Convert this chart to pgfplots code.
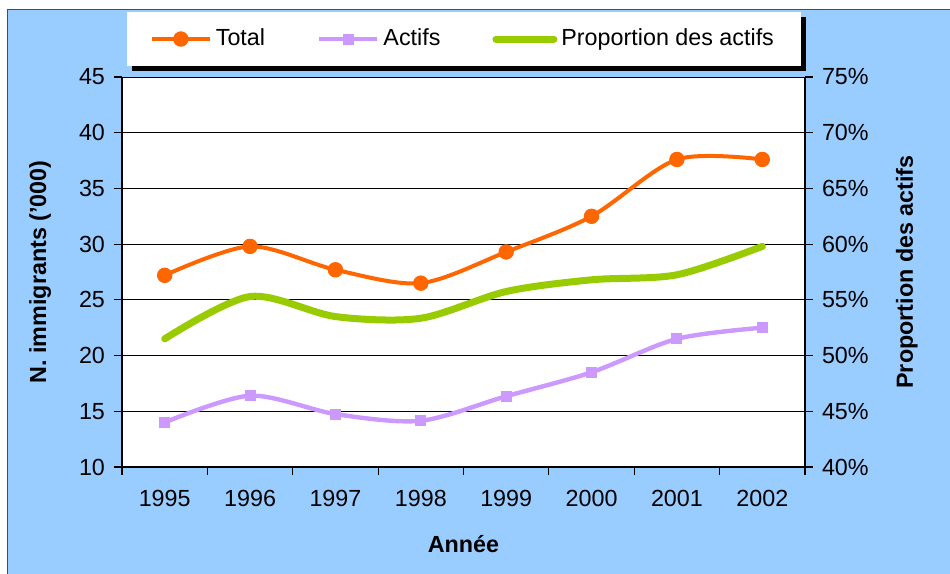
\documentclass[border=0pt]{standalone}
\usepackage{fontspec}
\setmainfont{Liberation Sans}
\usepackage{pgfplots}
\pgfplotsset{compat=1.18}

\definecolor{bgblue}{HTML}{99CCFF}
\definecolor{cTotal}{HTML}{FF6600}
\definecolor{cActifs}{HTML}{CC99FF}
\definecolor{cProp}{HTML}{99CC00}
\newcommand{\fs}{\fontsize{11.7}{14}\selectfont}

\begin{document}
\begin{tikzpicture}
% page frame, background, legend box (bp, relative to the plot's lower left)
\path[use as bounding box] (-61bp,-53.5bp) rectangle (414bp,233.5bp);
\fill[bgblue] (-57bp,-53.5bp) rectangle (414bp,228.5bp);
\draw[black!70, line width=0.5bp] (-57bp,-53.5bp) -- (-57bp,228.5bp) -- (414bp,228.5bp);
\fill[black] (5bp,198bp) rectangle (342bp,225bp);
\fill[white] (2.5bp,200.5bp) rectangle (339.5bp,227.5bp);

\pgfplotsset{
  base/.style={
    scale only axis, width=341.5bp, height=195bp,
    xmin=-0.5, xmax=7.5, ymin=10, ymax=45,
    tick align=outside,
    /pgf/number format/assume math mode=true,
    tick label style={font=\fs},
    label style={font=\fs\bfseries},
    axis line style={black, line width=1bp},
    tick style={black, line width=0.6bp},
  },
  legend image code/.code={%
    \draw[mark repeat=2, mark phase=2] plot coordinates {(0bp,0bp) (14.5bp,0bp) (29bp,0bp)};}
}

\begin{axis}[base,
  axis x line*=bottom, axis y line*=left,
  axis background/.style={fill=white},
  ytick={10,15,...,45},
  ymajorgrids, grid style={black, line width=0.5bp},
  xtick={0,...,7},
  xticklabels={1995,1996,1997,1998,1999,2000,2001,2002},
  major x tick style={draw=none},
  minor xtick={-0.5,0.5,...,7.5},
  minor tick length=4bp, major tick length=4bp,
  xticklabel style={yshift=-4bp},
  yticklabel style={xshift=-1bp},
  xlabel={Année},
  xlabel style={at={(axis description cs:0.5,-0.197)}, anchor=center},
  ylabel={N. immigrants ('000)},
  ylabel style={at={(axis description cs:-0.12,0.5)}, anchor=center, rotate=0},
  legend columns=3,
  legend style={draw=none, fill=none, font=\fs,
    at={(axis description cs:0.5006,1.0974)}, anchor=center,
    /tikz/every even column/.append style={column sep=24bp}},
  clip=false,
]
\addplot[cTotal, line width=2bp, smooth, mark=*, mark size=3.6bp,
  mark options={fill=cTotal, draw=cTotal, line width=0.5bp}]
  coordinates {(0,27.2) (1,29.8) (2,27.7) (3,26.5) (4,29.3) (5,32.5) (6,37.6) (7,37.6)};
\addlegendentry{Total}
\addplot[cActifs, line width=2.2bp, smooth, mark=square*, mark size=2.5bp,
  mark options={fill=cActifs, draw=cActifs, line width=0.5bp}]
  coordinates {(0,14.0) (1,16.4) (2,14.75) (3,14.15) (4,16.35) (5,18.5) (6,21.5) (7,22.5)};
\addlegendentry{Actifs}
\addlegendimage{cProp, line width=3.5bp, line cap=round}
\addlegendentry{Proportion des actifs}
\end{axis}

\begin{axis}[base,
  ymin=40, ymax=75,
  axis x line=none, axis y line*=right,
  ytick={40,45,...,75},
  major tick length=4bp,
  yticklabel={\pgfmathprintnumber{\tick}\%},
  yticklabel style={xshift=1bp},
  ylabel={Proportion des actifs},
  ylabel style={at={(axis description cs:1.149,0.5)}, anchor=center, rotate=0},
  clip=false,
]
\addplot[cProp, line width=3.5bp, smooth, line cap=round]
  coordinates {(0,51.5) (1,55.3) (2,53.5) (3,53.35) (4,55.75) (5,56.8) (6,57.25) (7,59.8)};
\end{axis}
\end{tikzpicture}
\end{document}
